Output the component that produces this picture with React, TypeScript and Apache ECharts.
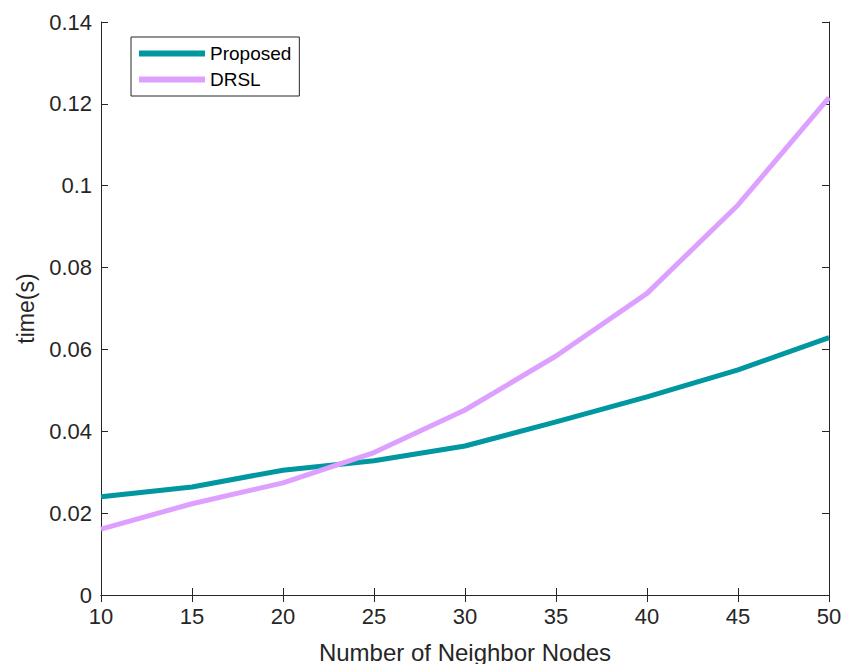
import React, { useEffect, useRef } from "react";
import * as echarts from "echarts";

const neighborNodes = [10, 15, 20, 25, 30, 35, 40, 45, 50];
const proposedTime = [0.024, 0.0264, 0.0305, 0.0328, 0.0364, 0.0423, 0.0484, 0.055, 0.0629];
const drslTime = [0.0161, 0.0223, 0.0274, 0.0348, 0.0452, 0.0584, 0.0737, 0.0953, 0.1215];
const seriesNames = ["Proposed", "DRSL"];

const FONT = "'Liberation Sans', Arial, Helvetica, sans-serif";
const AXIS = "#262626";

export default function App() {
  const ref = useRef<HTMLDivElement>(null);
  useEffect(() => {
    if (!ref.current) return;
    const chart = echarts.init(ref.current, undefined, { renderer: "svg" });
    const toPairs = (ys: number[]) => neighborNodes.map((x, i) => [x, ys[i]]);
    const baseX = {
      type: "value" as const,
      min: 10,
      max: 50,
      interval: 5,
      splitLine: { show: false },
      axisLine: { show: true, lineStyle: { color: AXIS, width: 1 } },
      axisTick: { show: true, inside: true, length: 7, lineStyle: { color: AXIS } },
    };
    const baseY = {
      type: "value" as const,
      min: 0,
      max: 0.14,
      interval: 0.02,
      splitLine: { show: false },
      axisLine: { show: true, lineStyle: { color: AXIS, width: 1 } },
      axisTick: { show: true, inside: true, length: 7, lineStyle: { color: AXIS } },
    };
    chart.setOption({
      animation: false,
      backgroundColor: "#ffffff",
      textStyle: { fontFamily: FONT },
      grid: { left: 101, top: 22, right: 14, bottom: 69, containLabel: false, outerBoundsMode: "none" },
      legend: {
        data: seriesNames,
        orient: "vertical",
        left: 131,
        top: 37,
        icon: "rect",
        itemWidth: 66,
        itemHeight: 6,
        itemGap: 7,
        padding: [7, 8, 7, 8],
        borderColor: AXIS,
        borderWidth: 1,
        backgroundColor: "#ffffff",
        textStyle: { fontFamily: FONT, fontSize: 19, color: "#000000", padding: [0, 0, 0, 0] },
      },
      xAxis: [
        {
          ...baseX,
          position: "bottom",
          name: "Number of Neighbor Nodes",
          nameLocation: "middle",
          nameGap: 45,
          nameTextStyle: { fontFamily: FONT, fontSize: 24, color: AXIS },
          axisLabel: { fontFamily: FONT, fontSize: 22, color: AXIS, margin: 10 },
        },
        { ...baseX, position: "top", axisLabel: { show: false } },
      ],
      yAxis: [
        {
          ...baseY,
          position: "left",
          name: "time(s)",
          nameLocation: "middle",
          nameGap: 64,
          nameTextStyle: { fontFamily: FONT, fontSize: 23, color: AXIS },
          axisLabel: { fontFamily: FONT, fontSize: 22, color: AXIS, margin: 9 },
        },
        { ...baseY, position: "right", axisLabel: { show: false } },
      ],
      series: [
        {
          name: seriesNames[0],
          type: "line",
          data: toPairs(proposedTime),
          symbol: "none",
          lineStyle: { color: "#0097A0", width: 5 },
          itemStyle: { color: "#0097A0" },
          z: 2,
        },
        {
          name: seriesNames[1],
          type: "line",
          data: toPairs(drslTime),
          symbol: "none",
          lineStyle: { color: "#DDA0FF", width: 5 },
          itemStyle: { color: "#DDA0FF" },
          z: 3,
        },
      ],
    });
    return () => chart.dispose();
  }, []);
  return (
    <div
      ref={ref}
      style={{ position: "fixed", left: 0, top: 0, width: 843, height: 664, background: "#fff" }}
    />
  );
}
